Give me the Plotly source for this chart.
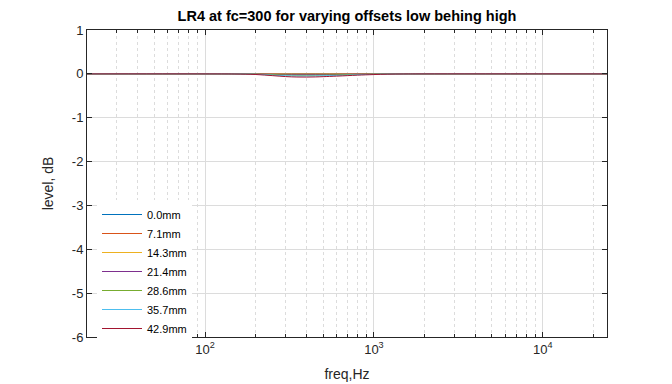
import plotly.graph_objects as go

freq = [20, 100, 150, 200, 250, 300, 350, 400, 450, 500, 600, 700, 800, 1000, 1200, 1500, 2000, 24000]

labels = ["0.0mm", "7.1mm", "14.3mm", "21.4mm", "28.6mm", "35.7mm", "42.9mm"]
level_0_0 = [0] * 18
level_7_1 = [0, 0, 0, 0, -0.001, -0.002, -0.002, -0.002, -0.002, -0.002, -0.002, -0.001, -0.001, -0.001, 0, 0, 0, 0]
level_14_3 = [0, 0, 0, -0.002, -0.004, -0.007, -0.008, -0.008, -0.008, -0.007, -0.006, -0.005, -0.003, -0.002, -0.001, 0, 0, 0]
level_21_4 = [0, 0, -0.001, -0.004, -0.010, -0.015, -0.018, -0.018, -0.017, -0.016, -0.013, -0.010, -0.007, -0.004, -0.002, -0.001, 0, 0]
level_28_6 = [0, 0, -0.001, -0.007, -0.018, -0.027, -0.032, -0.032, -0.031, -0.028, -0.023, -0.018, -0.013, -0.007, -0.003, -0.001, 0, 0]
level_35_7 = [0, 0, -0.002, -0.010, -0.028, -0.043, -0.050, -0.050, -0.048, -0.044, -0.036, -0.028, -0.020, -0.011, -0.005, -0.002, 0, 0]
level_42_9 = [0, 0, -0.003, -0.015, -0.040, -0.062, -0.072, -0.073, -0.070, -0.064, -0.052, -0.040, -0.029, -0.016, -0.007, -0.002, 0, 0]
series = [level_0_0, level_7_1, level_14_3, level_21_4, level_28_6, level_35_7, level_42_9]
colors = ["#0072BD", "#D95319", "#EDB120", "#7E2F8E", "#77AC30", "#4DBEEE", "#A2142F"]

x_ticks = [100, 1000, 10000]
x_ticktext = ["10<sup>2</sup>", "10<sup>3</sup>", "10<sup>4</sup>"]
minor_ticks = [m * d for d in (10, 100, 1000, 10000) for m in range(2, 10) if 20 <= m * d <= 24000]
y_ticks = [-6, -5, -4, -3, -2, -1, 0, 1]
y_ticktext = ["-6", "-5", "-4", "-3", "-2", "-1", "0", "1"]

fig = go.Figure()
for lab, ys, c in zip(labels, series, colors):
    fig.add_trace(go.Scatter(x=freq, y=ys, mode="lines", name=lab,
                             line=dict(color=c, width=1, shape="spline")))

font = "Liberation Sans, Arial, sans-serif"
fig.update_layout(
    width=672, height=384,
    margin=dict(l=87, r=65, t=30, b=47, autoexpand=False),
    paper_bgcolor="white", plot_bgcolor="white",
    font=dict(family=font, size=12, color="#262626"),
    title=dict(text="<b>LR4 at fc=300 for varying offsets low behing high</b>",
               x=(87 + 607) / 2 / 672, xanchor="center", y=1 - 16 / 384, yanchor="middle",
               font=dict(size=14.5, color="black")),
    showlegend=True,
    legend=dict(x=10 / 520, y=(337 - 200) / 307, xref="paper", yref="paper",
                xanchor="left", yanchor="top", bgcolor="white", borderwidth=0,
                font=dict(size=11, color="black"), itemwidth=40, tracegroupgap=0),
)
fig.update_xaxes(
    type="log", range=[1.30103, 4.380211],
    tickvals=x_ticks, ticktext=x_ticktext,
    ticks="inside", ticklen=5, tickcolor="#262626",
    showline=True, linecolor="#262626", linewidth=1, mirror="ticks",
    showgrid=True, gridcolor="#dcdcdc", gridwidth=1,
    minor=dict(tickvals=minor_ticks, ticks="inside", ticklen=3, tickcolor="#262626",
               showgrid=True, gridcolor="#dcdcdc", griddash="dot"),
    title=dict(text="freq,Hz", font=dict(size=14), standoff=13),
    tickfont=dict(size=13), zeroline=False,
)
fig.update_yaxes(
    range=[-6, 1], tickvals=y_ticks, ticktext=y_ticktext,
    ticks="inside", ticklen=5, tickcolor="#262626",
    showline=True, linecolor="#262626", linewidth=1, mirror="ticks",
    showgrid=True, gridcolor="#dcdcdc", gridwidth=1,
    title=dict(text="level, dB", font=dict(size=14), standoff=14),
    tickfont=dict(size=13), zeroline=False,
)
fig.write_html("out.html", config={"displayModeBar": False},
               post_script="document.body.style.margin='0';")
